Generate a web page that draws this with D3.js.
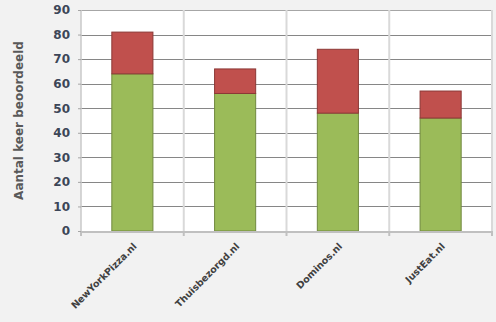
<!DOCTYPE html>
<html>
<head>
<meta charset="utf-8">
<script src="https://cdn.jsdelivr.net/npm/d3@7"></script>
<style>
  html, body { margin: 0; padding: 0; background: #f2f2f2; }
  svg { display: block; }
</style>
</head>
<body>
<div id="chart"></div>
<script>
// data
var categories = ["NewYorkPizza.nl", "Thuisbezorgd.nl", "Dominos.nl", "JustEat.nl"];
var greenValues = [64, 56, 48, 46];
var redValues = [17, 10, 26, 11];
var yTicks = [0, 10, 20, 30, 40, 50, 60, 70, 80, 90];

var W = 496, H = 322;
var margin = { top: 10, right: 4, bottom: 91, left: 81 },
    width = W - margin.left - margin.right,
    height = H - margin.top - margin.bottom;

var svg = d3.select("#chart")
    .append("svg")
    .attr("width", W)
    .attr("height", H);

svg.append("rect")
    .attr("width", W).attr("height", H)
    .attr("fill", "#f2f2f2");

var g = svg.append("g")
    .attr("transform", "translate(" + margin.left + "," + margin.top + ")");

var rows = categories.map(function(c, i) {
    return { cat: c, green: greenValues[i], red: redValues[i] };
});

var x = d3.scaleBand()
    .domain(categories)
    .range([0, width])
    .padding(0);

var y = d3.scaleLinear()
    .domain([0, 90])
    .range([height, 0]);

// plot background
g.append("rect")
    .attr("width", width)
    .attr("height", height)
    .attr("fill", "#ffffff");

// horizontal grid lines
g.selectAll(".hgrid")
    .data(yTicks.filter(function(t) { return t > 0; }))
    .enter()
    .append("line")
    .attr("x1", 0)
    .attr("x2", width)
    .attr("y1", function(d) { return Math.round(y(d)) + 0.5; })
    .attr("y2", function(d) { return Math.round(y(d)) + 0.5; })
    .attr("stroke", function(d) { return d === 90 ? "#a6a6a6" : "#868686"; })
    .attr("stroke-width", 1);

// vertical separators between categories
g.selectAll(".vgrid")
    .data(categories)
    .enter()
    .append("line")
    .attr("x1", function(d) { return x(d) + x.bandwidth(); })
    .attr("x2", function(d) { return x(d) + x.bandwidth(); })
    .attr("y1", 0)
    .attr("y2", height)
    .attr("stroke", "#d9d9d9")
    .attr("stroke-width", 2);

// left axis line
g.append("line")
    .attr("x1", 0).attr("x2", 0)
    .attr("y1", 0).attr("y2", height)
    .attr("stroke", "#c8c8c8")
    .attr("stroke-width", 1.5);

// stacked bars
var stack = d3.stack().keys(["green", "red"]);
var series = stack(rows);
var fills = { green: "#9bbb59", red: "#c0504d" };
var strokes = { green: "#71893f", red: "#8c3836" };
var barW = x.bandwidth() * 0.4;

g.selectAll(".series")
    .data(series)
    .enter()
    .append("g")
    .attr("fill", function(s) { return fills[s.key]; })
    .attr("stroke", function(s) { return strokes[s.key]; })
    .selectAll("rect")
    .data(function(s) { return s; })
    .enter()
    .append("rect")
    .attr("x", function(d) { return x(d.data.cat) + (x.bandwidth() - barW) / 2; })
    .attr("y", function(d) { return y(d[1]); })
    .attr("width", barW)
    .attr("height", function(d) { return y(d[0]) - y(d[1]); })
    .attr("stroke-width", 1);

// x axis
var xAxis = d3.axisBottom(x).tickSize(0).tickFormat(function(d) { return d; });
var xg = g.append("g")
    .attr("transform", "translate(0," + height + ")")
    .call(xAxis);
xg.select(".domain").remove();
xg.append("line")
    .attr("x1", 0).attr("x2", width)
    .attr("y1", 1).attr("y2", 1)
    .attr("stroke", "#c0c0c0")
    .attr("stroke-width", 2);
xg.selectAll(".xtick")
    .data([0].concat(categories.map(function(c) { return x(c) + x.bandwidth(); })))
    .enter()
    .append("line")
    .attr("x1", function(d) { return d; })
    .attr("x2", function(d) { return d; })
    .attr("y1", 0).attr("y2", 5)
    .attr("stroke", "#c0c0c0")
    .attr("stroke-width", 2);
xg.selectAll(".tick text")
    .attr("font-family", "DejaVu Sans, Verdana, sans-serif")
    .attr("font-size", "9.5px")
    .attr("font-weight", "bold")
    .attr("fill", "#404040")
    .attr("text-anchor", "end")
    .attr("dy", null)
    .attr("y", 0)
    .attr("transform", "translate(5,16) rotate(-45)");

// y axis
var yAxis = d3.axisLeft(y).tickValues(yTicks).tickSize(3).tickPadding(8);
var yg = g.append("g").call(yAxis);
yg.select(".domain").remove();
yg.selectAll(".tick line").attr("stroke", "#a6a6a6");
yg.selectAll(".tick text")
    .attr("font-family", "DejaVu Sans, Verdana, sans-serif")
    .attr("font-size", "12px")
    .attr("font-weight", "bold")
    .attr("fill", "#3c4658");

// y axis title
svg.append("text")
    .attr("transform", "translate(23," + (margin.top + height / 2) + ") rotate(-90)")
    .attr("text-anchor", "middle")
    .attr("font-family", "DejaVu Sans, Verdana, sans-serif")
    .attr("font-size", "12px")
    .attr("font-weight", "bold")
    .attr("fill", "#595959")
    .text("Aantal keer beoordeeld");
</script>
</body>
</html>
